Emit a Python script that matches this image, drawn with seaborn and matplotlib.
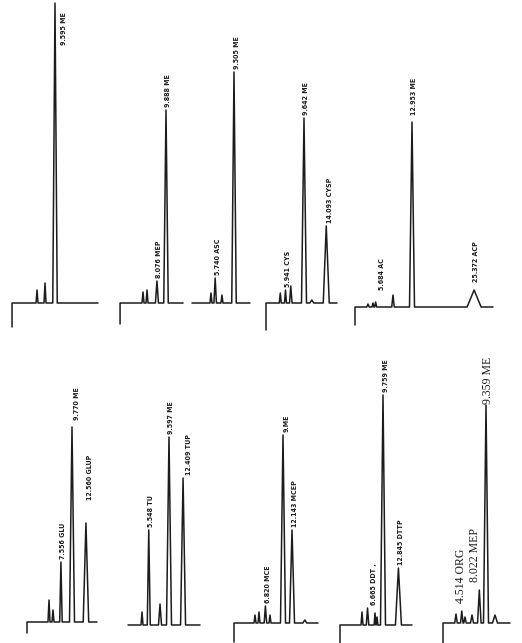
import matplotlib
matplotlib.use("Agg")
import matplotlib.pyplot as plt
import seaborn as sns
import pandas as pd

sns.set_theme(style="white")
plt.rcParams["font.family"] = ["DejaVu Sans"]

# ---------------- data (retention time in min, peak height in detector units) -------------
p1_times = [6.0, 7.6, 9.595]
p1_heights = [13, 20, 300]
p1_widths = [0.2, 0.2, 0.45]
p1_labels = ["", "", "9.595 ME"]
p1_run = [1.0, 18.2]
p1_drop = 24

p2_times = [5.29, 6.09, 8.076, 9.888]
p2_heights = [11, 13, 22, 193]
p2_widths = [0.2, 0.2, 0.3, 0.45]
p2_labels = ["", "", "8.076 MEP", "9.888 ME"]
p2_run = [0.7, 13.3]
p2_drop = 21

p3_times = [4.9, 5.740, 7.1, 9.505]
p3_heights = [10, 25, 8, 231]
p3_widths = [0.2, 0.25, 0.2, 0.45]
p3_labels = ["", "5.740 ASC", "", "9.505 ME"]
p3_run = [1.1, 12.7]
p3_drop = 0

p4_times = [4.9, 5.941, 7.0, 9.642, 11.2, 14.093]
p4_heights = [10, 13, 17, 185, 3, 77]
p4_widths = [0.2, 0.2, 0.25, 0.5, 0.4, 0.6]
p4_labels = ["", "5.941 CYS", "", "9.642 ME", "", "14.093 CYSP"]
p4_run = [2.04, 16.24]
p4_drop = 27

p5_times = [4.15, 5.15, 5.684, 9.15, 12.953, 25.372]
p5_heights = [3, 4, 5, 12, 185, 17]
p5_widths = [0.25, 0.2, 0.2, 0.25, 0.5, 1.4]
p5_labels = ["", "", "5.684 AC", "", "12.953 ME", "25.372 ACP"]
p5_run = [1.55, 29.15]
p5_drop = 18

p6_times = [5.17, 5.97, 7.556, 9.770, 12.560]
p6_heights = [22, 12, 60, 195, 99]
p6_widths = [0.2, 0.2, 0.25, 0.5, 0.55]
p6_labels = ["", "", "7.556 GLU", "9.770 ME", "12.560 GLUP"]
p6_run = [0.77, 14.77]
p6_drop = 11

p7_times = [4.2, 5.548, 7.8, 9.597, 12.409]
p7_heights = [13, 95, 21, 188, 147]
p7_widths = [0.2, 0.3, 0.3, 0.5, 0.5]
p7_labels = ["", "5.548 TU", "", "9.597 ME", "12.409 TUP"]
p7_run = [1.4, 15.8]
p7_drop = 0

p8_times = [4.74, 5.54, 6.820, 7.74, 10.34, 12.143, 14.7]
p8_heights = [8, 11, 17, 8, 188, 93, 3]
p8_widths = [0.2, 0.2, 0.25, 0.2, 0.5, 0.5, 0.4]
p8_labels = ["", "", "6.820 MCE", "", "9.ME", "12.143 MCEP", ""]
p8_run = [0.54, 17.34]
p8_drop = 19

p9_times = [5.56, 6.665, 8.16, 8.56, 9.759, 12.845]
p9_heights = [13, 17, 12, 8, 230, 57]
p9_widths = [0.2, 0.25, 0.18, 0.18, 0.5, 0.6]
p9_labels = ["", "6.665 DDT ,", "", "", "9.759 ME", "12.845 DTTP"]
p9_run = [1.16, 15.56]
p9_drop = 18

p10_times = [3.36, 4.514, 5.16, 6.56, 8.022, 9.359, 11.16]
p10_heights = [9, 12, 6, 8, 33, 218, 8]
p10_widths = [0.25, 0.25, 0.25, 0.3, 0.35, 0.5, 0.5]
p10_labels = ["", "4.514 ORG", "", "", "8.022 MEP", "9.359 ME", ""]
p10_run = [0.76, 14.16]
p10_drop = 20

panels = [
    (p1_times, p1_heights, p1_widths, p1_labels, p1_run, p1_drop),
    (p2_times, p2_heights, p2_widths, p2_labels, p2_run, p2_drop),
    (p3_times, p3_heights, p3_widths, p3_labels, p3_run, p3_drop),
    (p4_times, p4_heights, p4_widths, p4_labels, p4_run, p4_drop),
    (p5_times, p5_heights, p5_widths, p5_labels, p5_run, p5_drop),
    (p6_times, p6_heights, p6_widths, p6_labels, p6_run, p6_drop),
    (p7_times, p7_heights, p7_widths, p7_labels, p7_run, p7_drop),
    (p8_times, p8_heights, p8_widths, p8_labels, p8_run, p8_drop),
    (p9_times, p9_heights, p9_widths, p9_labels, p9_run, p9_drop),
    (p10_times, p10_heights, p10_widths, p10_labels, p10_run, p10_drop),
]

# ---------------- layout (pixels) -----------------
W, H = 522, 643
S = 5.0   # px per minute
V = 1.0   # px per unit
# (x pixel of anchor peak, baseline y pixel, anchor peak index, row top)
layout = [
    (55, 303, 2, 0), (166, 303, 3, 0), (234, 303, 3, 0), (304, 303, 3, 0), (412, 307, 4, 0),
    (72, 622, 3, 330), (169, 625, 3, 330), (283, 623, 4, 330), (383, 625, 4, 330), (486, 623, 5, 330),
]
# label tweaks: (panel, label index) -> (dx in min, y in units or None)
label_tweak = {
    (0, 2): (1.8, 258),
    (3, 5): (0.8, None),
    (4, 2): (1.2, 17),
    (4, 4): (0.3, 192),
    (4, 5): (0.4, 25),
    (5, 3): (1.0, 202),
    (5, 4): (0.8, 122),
    (6, 4): (1.2, None),
    (7, 4): (0.8, None),
    (8, 1): (1.3, None),
    (9, 1): (-0.2, 20),
    (9, 4): (-0.8, 41),
    (9, 5): (0.4, 219),
}

fig = plt.figure(figsize=(W / 100, H / 100), dpi=100)
fig.patch.set_facecolor("white")

for i, (times, heights, widths, labels, run, drop) in enumerate(panels):
    xa, yb, ia, row_top = layout[i]
    ta = times[ia]
    xlo, xhi = run[0] - 1.0, run[1] + 3.0
    ylo, yhi = -32.0, (yb - row_top) / V
    left_px = xa - (ta - xlo) * S
    bottom_px = yb - ylo * V
    ax = fig.add_axes([left_px / W, 1 - bottom_px / H, (xhi - xlo) * S / W, (yhi - ylo) * V / H])
    ax.set_xlim(xlo, xhi)
    ax.set_ylim(ylo, yhi)
    ax.axis("off")

    # build trace from the peak table
    xs, ys = [run[0], run[0]], [-drop, 0.0]
    for t, h, w in zip(times, heights, widths):
        xs += [t - w, t, t + w]
        ys += [0.0, h, 0.0]
    xs.append(run[1])
    ys.append(0.0)
    df = pd.DataFrame({"t": xs, "signal": ys})
    sns.lineplot(data=df, x="t", y="signal", sort=False, estimator=None,
                 color="#1c1c1c", lw=1.1, ax=ax)
    ax.set_xlabel("")
    ax.set_ylabel("")

    serif = (i == 9)
    for j, (t, h, lab) in enumerate(zip(times, heights, labels)):
        if not lab:
            continue
        dx, yy = label_tweak.get((i, j), (0.5, None))
        if yy is None:
            yy = h + 3
        if serif:
            ax.text(t + dx, yy, lab, rotation=90, ha="center", va="bottom",
                    fontsize=8.5, family=["Liberation Serif", "DejaVu Serif"],
                    color="#1c1c1c", clip_on=False)
        else:
            ax.text(t + dx, yy, lab, rotation=90, ha="center", va="bottom",
                    fontsize=5.0, fontweight="bold", fontstretch="condensed",
                    color="#1c1c1c", clip_on=False)

fig.savefig("out.png", dpi=100, facecolor="white")
